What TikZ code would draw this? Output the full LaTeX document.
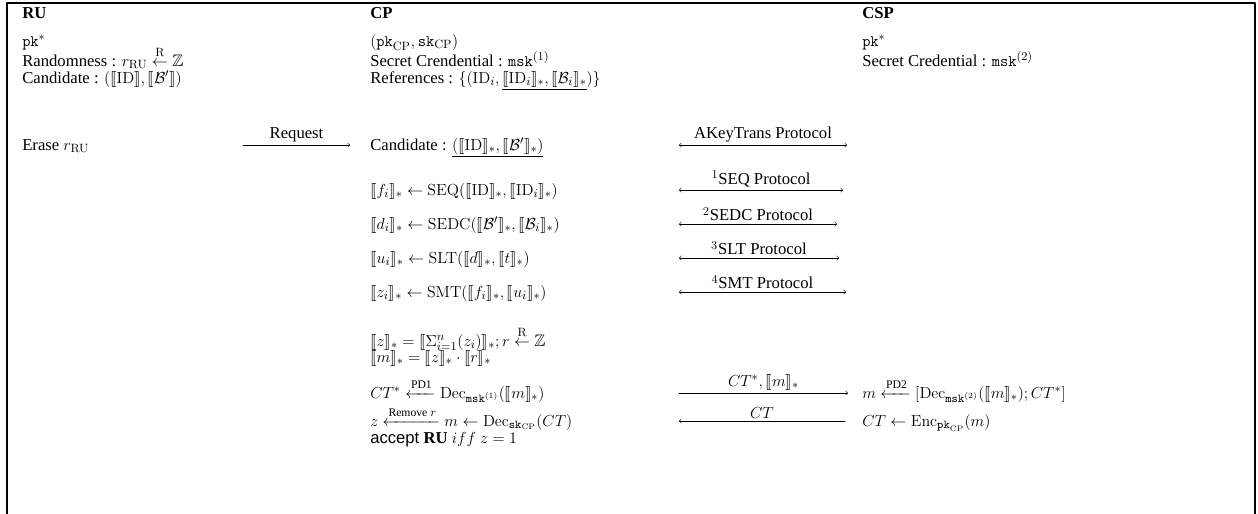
\documentclass[tikz,border=0pt]{standalone}
\usepackage{amsmath,amssymb,stmaryrd}
\usepackage[no-math]{fontspec}
\setmainfont{Liberation Serif}
\newfontfamily\helvfont{Liberation Sans}
\usetikzlibrary{positioning}
\newcommand{\encs}[1]{\llbracket #1\rrbracket_*}
\newcommand{\enc}[1]{\llbracket #1\rrbracket}

\begin{document}
\begin{tikzpicture}[x=0.75pt, y=-0.75pt, >=to, line join=round, line cap=round,
		font=\fontsize{12.5}{15}\selectfont,
		txt/.style={anchor=base west, inner sep=0pt},
		lbl/.style={above=1pt, inner sep=1pt}]
		\def\xa{22} \def\xb{370} \def\xc{862} % columns
		\def\al{679} % left end of the middle arrows
		\useasboundingbox (0,0) rectangle (1258,514);
		\draw[line width=2.2pt, line cap=butt] (7,514) -- (7,3) -- (1255,3) -- (1255,514);
		% headers
		\node[txt] (ru) at (\xa,18) {\textbf{RU}};
		\node[txt] (cp) at (\xb,18) {\textbf{CP}};
		\node[txt] (csp) at (\xc,18) {\textbf{CSP}};
		% RU
		\node[txt] (rupk) at (\xa,46) {$\mathtt{pk}^*$};
		\node[txt] (rurand) at (\xa,66) {Randomness : $r_{\mathrm{RU}}\overset{\mathrm{R}}{\leftarrow}\mathbb{Z}$};
		\node[txt] (rucand) at (\xa,83) {Candidate : $(\enc{\mathrm{ID}},\enc{\mathcal{B}'})$};
		\node[txt] (erase) at (\xa,150) {Erase $r_{\mathrm{RU}}$};
		% CP
		\node[txt] (cpkey) at (\xb,46) {$(\mathtt{pk}_{\mathrm{CP}},\mathtt{sk}_{\mathrm{CP}})$};
		\node[txt] (cpmsk) at (\xb,66) {Secret Crendential : $\mathtt{msk}^{(1)}$};
		\node[txt] (cpref) at (\xb,83) {References : $\{(\mathrm{ID}_i,\underline{\encs{\mathrm{ID}_i},\encs{\mathcal{B}_i}})\}$};
		\node[txt] (cpcand) at (\xb,150) {Candidate : $\underline{(\encs{\mathrm{ID}},\encs{\mathcal{B}'})}$};
		\node[txt] (seq) at (\xb,195) {$\encs{f_i}\leftarrow\mathrm{SEQ}(\encs{\mathrm{ID}},\encs{\mathrm{ID}_i})$};
		\node[txt] (sedc) at (\xb,229) {$\encs{d_i}\leftarrow\mathrm{SEDC}(\encs{\mathcal{B}'},\encs{\mathcal{B}_i})$};
		\node[txt] (slt) at (\xb,263) {$\encs{u_i}\leftarrow\mathrm{SLT}(\encs{d},\encs{t})$};
		\node[txt] (smt) at (\xb,297) {$\encs{z_i}\leftarrow\mathrm{SMT}(\encs{f_i},\encs{u_i})$};
		\node[txt] (sum) at (\xb,346) {$\encs{z}=\encs{\Sigma_{i=1}^n(z_i)};r\overset{\mathrm{R}}{\leftarrow}\mathbb{Z}$};
		\node[txt] (mask) at (\xb,362) {$\encs{m}=\encs{z}\cdot\encs{r}$};
		\node[txt] (pd1) at (\xb,398) {$CT^*\xleftarrow{\text{PD1}}\mathrm{Dec}_{\mathtt{msk}^{(1)}}(\encs{m})$};
		\node[txt] (rem) at (\xb,426) {$z\xleftarrow{\text{Remove }r}m\leftarrow\mathrm{Dec}_{\mathtt{sk}_{\mathrm{CP}}}(CT)$};
		\node[txt] (acc) at (\xb,443) {{\helvfont accept} \textbf{RU} $iff\ z=1$};
		% CSP
		\node[txt] (csppk) at (\xc,46) {$\mathtt{pk}^*$};
		\node[txt] (cspmsk) at (\xc,66) {Secret Credential : $\mathtt{msk}^{(2)}$};
		\node[txt] (pd2) at (\xc,398) {$m\xleftarrow{\text{PD2}}[\mathrm{Dec}_{\mathtt{msk}^{(2)}}(\encs{m});CT^*]$};
		\node[txt] (enc) at (\xc,426) {$CT\leftarrow\mathrm{Enc}_{\mathtt{pk}_{\mathrm{CP}}}(m)$};
		% arrow ends
		\coordinate (rqs) at (243,145); \coordinate (rqe) at (350,145);
		\coordinate (aks) at (\al,145); \coordinate (ake) at (847,145);
		\coordinate (eqs) at (\al,190); \coordinate (eqe) at (843,190);
		\coordinate (dcs) at (\al,224); \coordinate (dce) at (837,224);
		\coordinate (lts) at (\al,258); \coordinate (lte) at (839,258);
		\coordinate (mts) at (\al,292); \coordinate (mte) at (846,292);
		\coordinate (cts) at (\al,393); \coordinate (cte) at (848,393);
		\coordinate (bks) at (\al,421); \coordinate (bke) at (845,421);
		% messages
		\draw[->] (rqs) -- (rqe) node[lbl, midway] (rq) {Request};
		\draw[<->] (aks) -- (ake) node[lbl, midway] (ak) {AKeyTrans Protocol};
		\draw[<->] (eqs) -- (eqe) node[lbl, midway] (eq) {$^1$SEQ Protocol};
		\draw[<->] (dcs) -- (dce) node[lbl, midway] (dc) {$^2$SEDC Protocol};
		\draw[<->] (lts) -- (lte) node[lbl, midway] (lt) {$^3$SLT Protocol};
		\draw[<->] (mts) -- (mte) node[lbl, midway] (mt) {$^4$SMT Protocol};
		\draw[->] (cts) -- (cte) node[lbl, midway] (ct) {$CT^*,\encs{m}$};
		\draw[<-] (bks) -- (bke) node[lbl, midway] (bk) {$CT$};
\end{tikzpicture}
\end{document}
